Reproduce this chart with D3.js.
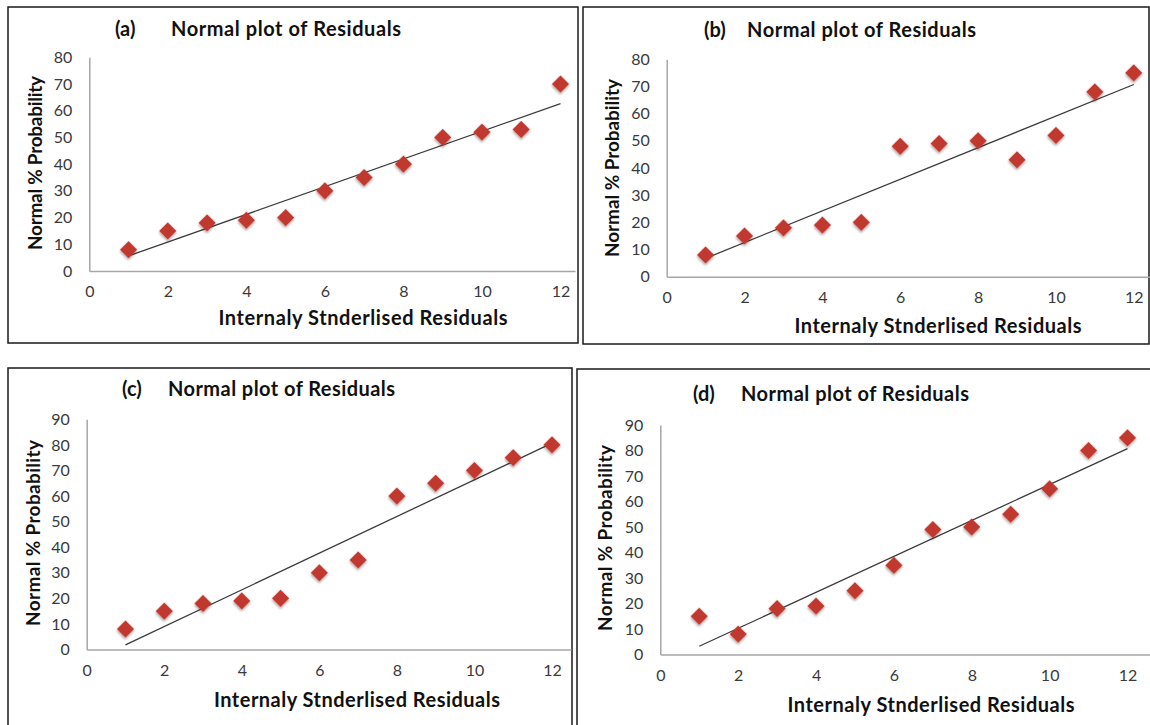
<!DOCTYPE html>
<html>
<head>
<meta charset="utf-8">
<script src="https://cdn.jsdelivr.net/npm/d3@7"></script>
<style>
  html, body { margin: 0; padding: 0; background: #fff; }
  svg { display: block; }
  text { font-family: Lato, "Open Sans", sans-serif; }
</style>
</head>
<body>
<svg id="chart" width="1150" height="725"></svg>
<script>
// Run order (x) and normal % probability (y) for the four residual plots
const runOrder = [1, 2, 3, 4, 5, 6, 7, 8, 9, 10, 11, 12];
const residualsA = [8, 15, 18, 19, 20, 30, 35, 40, 50, 52, 53, 70];
const residualsB = [8, 15, 18, 19, 20, 48, 49, 50, 43, 52, 68, 75];
const residualsC = [8, 15, 18, 19, 20, 30, 35, 60, 65, 70, 75, 80];
const residualsD = [15, 8, 18, 19, 25, 35, 49, 50, 55, 65, 80, 85];

const xTickValues = [0, 2, 4, 6, 8, 10, 12];
const yTicks80 = [0, 10, 20, 30, 40, 50, 60, 70, 80];
const yTicks90 = [0, 10, 20, 30, 40, 50, 60, 70, 80, 90];

const panelTags = ["(a)", "(b)", "(c)", "(d)"];
const plotTitle = "Normal plot of Residuals";
const xAxisTitle = "Internaly Stnderlised Residuals";
const yAxisTitle = "Normal % Probability";

// Frame and plot-area geometry of each panel
const layouts = [
  { frame: [8, 7, 570, 336], left: 89.3, x12: 560.5, axisEnd: 575, top: 57.3, bottom: 271,
    tagX: 115, titleX: 171, titleY: 29, titleLen: 230,
    xTitleCx: 363, xTitleY: 318, xTitleLen: 289,
    yTitleX: 35, yTitleCy: 163, yTitleLen: 174 },
  { frame: [583, 7, 566, 337], left: 666.7, x12: 1133.8, axisEnd: 1150, top: 59.3, bottom: 276.7,
    tagX: 704, titleX: 747, titleY: 30, titleLen: 229,
    xTitleCx: 938, xTitleY: 326, xTitleLen: 287,
    yTitleX: 612, yTitleCy: 168, yTitleLen: 178 },
  { frame: [8, 368, 564, 370], left: 86.7, x12: 552, axisEnd: 571, top: 419.3, bottom: 649.5,
    tagX: 122, titleX: 168, titleY: 389, titleLen: 227,
    xTitleCx: 357, xTitleY: 700, xTitleLen: 286,
    yTitleX: 33, yTitleCy: 533, yTitleLen: 186 },
  { frame: [577, 369, 580, 370], left: 660.3, x12: 1127.5, axisEnd: 1150, top: 425, bottom: 654.5,
    tagX: 693, titleX: 741, titleY: 394, titleLen: 228,
    xTitleCx: 931, xTitleY: 705, xTitleLen: 287,
    yTitleX: 605, yTitleCy: 538, yTitleLen: 186 }
];

const seriesList = [residualsA, residualsB, residualsC, residualsD];
const yMaxList = [80, 80, 90, 90];
const yTickList = [yTicks80, yTicks80, yTicks90, yTicks90];

const svg = d3.select("#chart");

// soft shadow under the diamond markers
const defs = svg.append("defs");
const shadow = defs.append("filter").attr("id", "markerShadow")
  .attr("x", "-50%").attr("y", "-50%").attr("width", "200%").attr("height", "200%");
shadow.append("feDropShadow").attr("dx", 1.2).attr("dy", 1.5)
  .attr("stdDeviation", 1.3).attr("flood-color", "#000").attr("flood-opacity", 0.35);

// least-squares trend line
function linearFit(xs, ys) {
  const n = xs.length;
  const mx = d3.mean(xs), my = d3.mean(ys);
  let sxy = 0, sxx = 0;
  for (let i = 0; i < n; i++) {
    sxy += (xs[i] - mx) * (ys[i] - my);
    sxx += (xs[i] - mx) * (xs[i] - mx);
  }
  const slope = sxy / sxx;
  return { slope, intercept: my - slope * mx };
}

const diamond = d3.symbol().type(d3.symbolSquare).size(150);

layouts.forEach((L, i) => {
  const values = seriesList[i];
  const yMax = yMaxList[i];
  const g = svg.append("g");

  // panel frame
  g.append("rect")
    .attr("x", L.frame[0]).attr("y", L.frame[1])
    .attr("width", L.frame[2]).attr("height", L.frame[3])
    .attr("fill", "none").attr("stroke", "#1a1a1a").attr("stroke-width", 1.5);

  const x = d3.scaleLinear().domain([0, 12]).range([L.left, L.x12]);
  const y = d3.scaleLinear().domain([0, yMax]).range([L.bottom, L.top]);
  const xAxisMax = x.invert(L.axisEnd);
  const xAxisScale = d3.scaleLinear().domain([0, xAxisMax]).range([L.left, L.axisEnd]);

  // x axis
  const xAxis = g.append("g")
    .attr("transform", `translate(0,${L.bottom})`)
    .call(d3.axisBottom(xAxisScale).tickValues(xTickValues).tickSize(0).tickSizeOuter(0).tickPadding(15));
  xAxis.select(".domain").attr("stroke", "#a6a6a6").attr("stroke-width", 1.5);
  xAxis.selectAll("text").attr("font-size", 16).attr("fill", "#3a3a3a")
    .attr("font-family", "Lato, sans-serif");

  // y axis
  const yAxis = g.append("g")
    .attr("transform", `translate(${L.left},0)`)
    .call(d3.axisLeft(y).tickValues(yTickList[i]).tickSize(0).tickSizeOuter(0).tickPadding(17));
  yAxis.select(".domain").attr("stroke", "#a6a6a6").attr("stroke-width", 1.5);
  yAxis.selectAll("text").attr("font-size", 16).attr("fill", "#3a3a3a")
    .attr("font-family", "Lato, sans-serif");

  // trend line across the run range
  const fit = linearFit(runOrder, values);
  const x0 = d3.min(runOrder), x1 = d3.max(runOrder);
  g.append("line")
    .attr("x1", x(x0)).attr("y1", y(fit.intercept + fit.slope * x0))
    .attr("x2", x(x1)).attr("y2", y(fit.intercept + fit.slope * x1))
    .attr("stroke", "#3b3b3b").attr("stroke-width", 1.3);

  // diamond markers
  g.append("g").selectAll("path")
    .data(runOrder.map((r, k) => ({ r, v: values[k] })))
    .join("path")
    .attr("d", diamond)
    .attr("transform", d => `translate(${x(d.r)},${y(d.v)}) rotate(45)`)
    .attr("fill", "#c0392f")
    .attr("filter", "url(#markerShadow)");

  // titles
  g.append("text").attr("x", L.tagX).attr("y", L.titleY).attr("dy", "0.35em")
    .attr("font-size", 20).attr("font-weight", "bold").attr("fill", "#111")
    .text(panelTags[i]);
  g.append("text").attr("x", L.titleX).attr("y", L.titleY).attr("dy", "0.35em")
    .attr("font-size", 20).attr("font-weight", "bold").attr("fill", "#111")
    .attr("textLength", L.titleLen).attr("lengthAdjust", "spacing")
    .text(plotTitle);

  g.append("text").attr("x", L.xTitleCx).attr("y", L.xTitleY).attr("dy", "0.35em")
    .attr("text-anchor", "middle")
    .attr("font-size", 20).attr("font-weight", "bold").attr("fill", "#111")
    .attr("textLength", L.xTitleLen).attr("lengthAdjust", "spacing")
    .text(xAxisTitle);

  g.append("text")
    .attr("transform", `translate(${L.yTitleX},${L.yTitleCy}) rotate(-90)`)
    .attr("dy", "0.35em").attr("text-anchor", "middle")
    .attr("font-size", 19).attr("font-weight", "bold").attr("fill", "#111")
    .attr("textLength", L.yTitleLen).attr("lengthAdjust", "spacing")
    .text(yAxisTitle);
});
</script>
</body>
</html>
